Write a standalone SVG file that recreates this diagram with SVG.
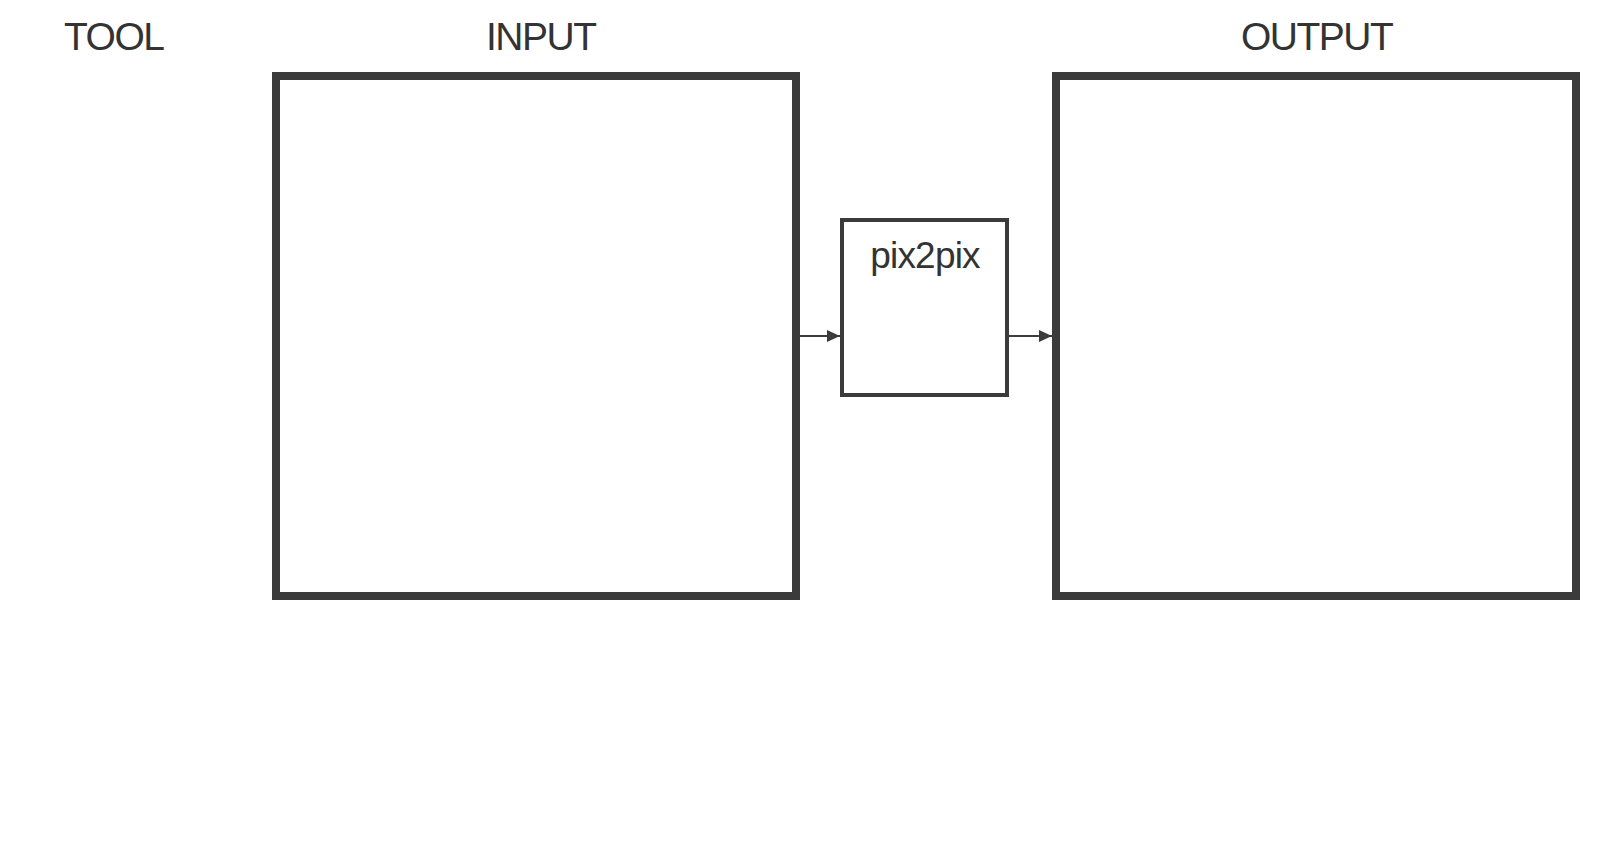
<svg xmlns="http://www.w3.org/2000/svg" width="1600" height="852" viewBox="0 0 1600 852">
<style>
.title{font-family:"Liberation Sans",Arial,sans-serif;font-size:39px;fill:#333;letter-spacing:-1.5px}
.big{fill:#fff;stroke:#3b3b3b;stroke-width:8}
.tool{fill:#fff;stroke:#3b3b3b;stroke-width:4}
.lbl{font-family:"Liberation Sans",Arial,sans-serif;font-size:37px;fill:#333;letter-spacing:-0.8px}
.conn{stroke:#3b3b3b;stroke-width:2;fill:none}
</style>
<defs>
<marker id="arr" markerWidth="13" markerHeight="12" viewBox="0 0 13 12" refX="13" refY="6" orient="auto" markerUnits="userSpaceOnUse">
<path d="M0,0 L13,6 L0,12 Z" fill="#3b3b3b"/>
</marker>
</defs>
<rect width="1600" height="852" fill="#fff"/>
<g id="label-tool"><text class="title" x="64" y="49.5">TOOL</text></g>
<g id="input">
<text class="title" x="486" y="49.5">INPUT</text>
<rect class="big" x="276" y="76" width="520" height="520"/>
</g>
<g id="pix2pix">
<rect class="tool" x="842" y="220" width="165" height="175"/>
<text class="lbl" x="925" y="268" text-anchor="middle">pix2pix</text>
</g>
<g id="output">
<text class="title" x="1241" y="49.5">OUTPUT</text>
<rect class="big" x="1056" y="76" width="520" height="520"/>
</g>
<g id="connectors">
<line class="conn" x1="800" y1="336" x2="840" y2="336" marker-end="url(#arr)"/>
<line class="conn" x1="1009" y1="336" x2="1052" y2="336" marker-end="url(#arr)"/>
</g>
</svg>
